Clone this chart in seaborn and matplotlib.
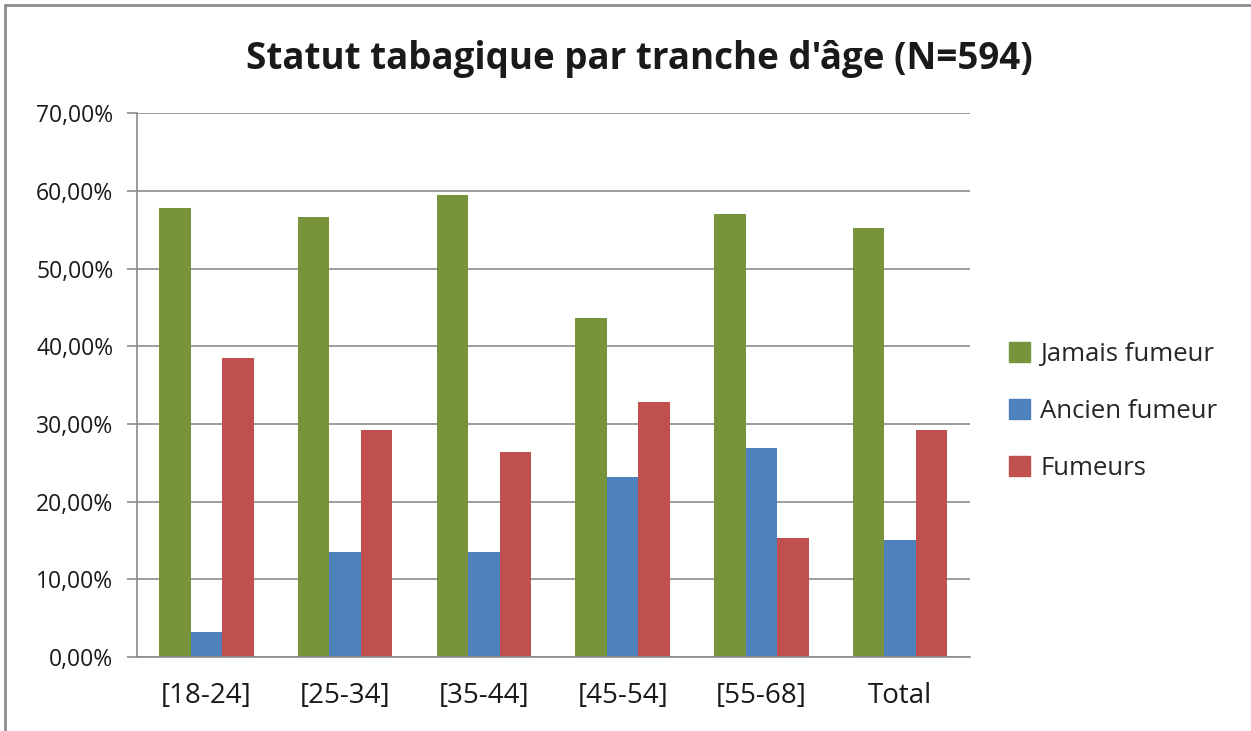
import matplotlib.pyplot as plt
import matplotlib.patches as mpatches
from matplotlib.ticker import FuncFormatter, MultipleLocator
import pandas as pd
import seaborn as sns

sns.set_theme(style="white")
plt.rcParams['font.family'] = ['Open Sans', 'DejaVu Sans']

# data
tranches = ['[18-24]', '[25-34]', '[35-44]', '[45-54]', '[55-68]', 'Total']
jamais = [57.8, 56.6, 59.5, 43.6, 57.0, 55.3]
ancien = [3.2, 13.6, 13.6, 23.2, 26.9, 15.1]
fumeurs = [38.5, 29.2, 26.4, 32.8, 15.4, 29.2]
statuts = ['Jamais fumeur', 'Ancien fumeur', 'Fumeurs']
couleurs = ['#77933C', '#4F81BD', '#C0504D']

rows = []
for serie, vals in zip(statuts, [jamais, ancien, fumeurs]):
    for t, v in zip(tranches, vals):
        rows.append({'tranche': t, 'statut': serie, 'pct': v})
df = pd.DataFrame(rows)

fig = plt.figure(figsize=(12.51, 7.31), dpi=100)
ax = fig.add_axes([0.1095, 0.101, 0.6655, 0.744])

sns.barplot(data=df, x='tranche', y='pct', hue='statut', order=tranches,
            hue_order=statuts, palette=couleurs, width=0.68, saturation=1,
            linewidth=0, ax=ax, legend=True)

ax.set_ylim(0, 70)
ax.set_xlim(-0.5, len(tranches) - 0.5)
ax.yaxis.set_major_locator(MultipleLocator(10))
ax.yaxis.set_major_formatter(FuncFormatter(lambda v, p: f"{v:.2f}%".replace('.', ',')))
ax.grid(axis='y', color='#8c8c8c', linewidth=1.2)
ax.set_axisbelow(True)
ax.set_xlabel('')
ax.set_ylabel('')

for s in ['top', 'right']:
    ax.spines[s].set_visible(False)
ax.spines['left'].set_color('#8c8c8c')
ax.spines['bottom'].set_color('#8c8c8c')
ax.spines['left'].set_linewidth(1.2)
ax.spines['bottom'].set_linewidth(1.2)

# ticks between the groups
ax.set_xticks([i - 0.5 for i in range(len(tranches) + 1)], minor=True)
ax.tick_params(axis='x', which='major', length=0, labelsize=20, pad=18, colors='#1a1a1a')
ax.tick_params(axis='x', which='minor', length=8, width=1.2, color='#8c8c8c', direction='out')
ax.tick_params(axis='y', length=7, width=1.2, color='#8c8c8c', direction='out', left=True,
               labelsize=16.5, colors='#1a1a1a', pad=10)
for lab in ax.get_yticklabels():
    lab.set_color('#1a1a1a')

handles = [mpatches.Patch(color=c, label=s) for c, s in zip(couleurs, statuts)]
ax.legend(handles=handles, loc='center left', bbox_to_anchor=(1.02, 0.452), frameon=False,
          fontsize=18.5, handlelength=0.8, handleheight=0.8, handletextpad=0.4,
          labelspacing=1.25)

fig.suptitle("Statut tabagique par tranche d'âge (N=594)", x=0.511, y=0.945,
             fontsize=26.5, fontweight='bold', color='#1a1a1a')

# chart frame
fig.patches.append(mpatches.Rectangle((0.004, -0.01), 1.0, 1.003, transform=fig.transFigure,
                                      fill=False, edgecolor='#8c8c8c', linewidth=2))

fig.savefig('out.png', dpi=100)
